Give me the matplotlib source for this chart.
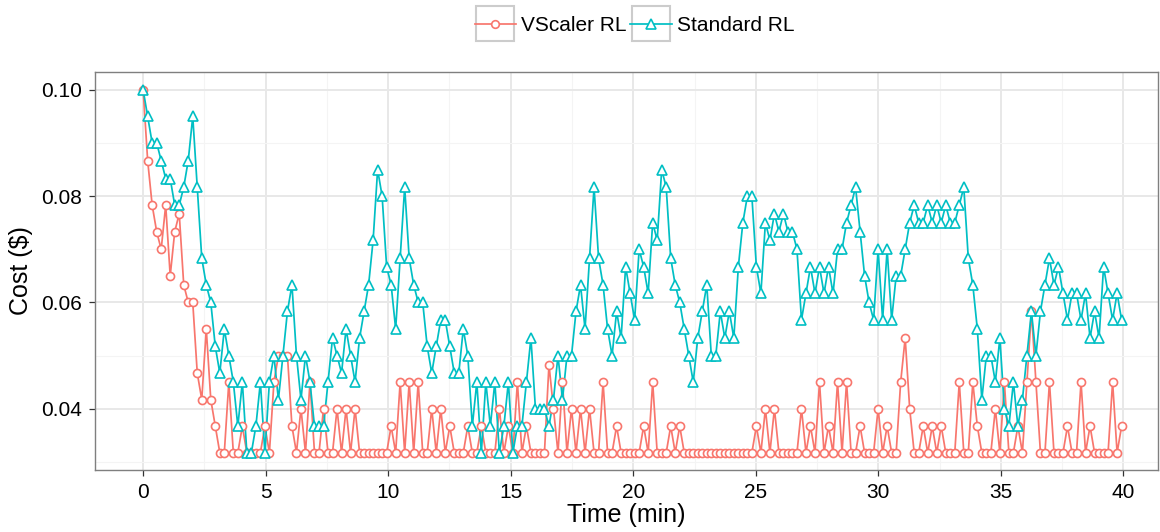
import numpy as np
import matplotlib
matplotlib.use("Agg")
import matplotlib.pyplot as plt
from matplotlib.lines import Line2D
from matplotlib.patches import Rectangle

plt.rcParams["font.family"] = ["Liberation Sans", "DejaVu Sans"]

# sampling interval of the cost trace, minutes
step_min = 0.184

vscaler = [
    0.1, 0.0867, 0.0783, 0.0733, 0.07, 0.0783, 0.065, 0.0733, 0.0767, 0.0633,
    0.06, 0.06, 0.0467, 0.0417, 0.055, 0.0417, 0.0367, 0.0317, 0.0317, 0.045,
    0.0317, 0.0317, 0.0367, 0.0317, 0.0317, 0.0317, 0.0317, 0.0367, 0.0317, 0.045,
    0.05, 0.05, 0.05, 0.0367, 0.0317, 0.04, 0.0317, 0.045, 0.0317, 0.0317,
    0.04, 0.0317, 0.0317, 0.04, 0.0317, 0.04, 0.0317, 0.04, 0.0317, 0.0317,
    0.0317, 0.0317, 0.0317, 0.0317, 0.0317, 0.0367, 0.0317, 0.045, 0.0317, 0.045,
    0.0317, 0.045, 0.0317, 0.0317, 0.04, 0.0317, 0.04, 0.0317, 0.0367, 0.0317,
    0.0317, 0.0317, 0.0367, 0.0317, 0.0317, 0.0367, 0.0317, 0.0317, 0.0317, 0.04,
    0.0317, 0.0367, 0.0317, 0.045, 0.0317, 0.0367, 0.0317, 0.0317, 0.0317, 0.0317,
    0.0483, 0.04, 0.0317, 0.045, 0.0317, 0.04, 0.0317, 0.04, 0.0317, 0.04,
    0.0317, 0.0317, 0.045, 0.0317, 0.0317, 0.0367, 0.0317, 0.0317, 0.0317, 0.0317,
    0.0317, 0.0367, 0.0317, 0.045, 0.0317, 0.0317, 0.0317, 0.0367, 0.0317, 0.0367,
    0.0317, 0.0317, 0.0317, 0.0317, 0.0317, 0.0317, 0.0317, 0.0317, 0.0317, 0.0317,
    0.0317, 0.0317, 0.0317, 0.0317, 0.0317, 0.0317, 0.0367, 0.0317, 0.04, 0.0317,
    0.04, 0.0317, 0.0317, 0.0317, 0.0317, 0.0317, 0.04, 0.0317, 0.0367, 0.0317,
    0.045, 0.0317, 0.0367, 0.0317, 0.045, 0.0317, 0.045, 0.0317, 0.0317, 0.0367,
    0.0317, 0.0317, 0.0317, 0.04, 0.0317, 0.0367, 0.0317, 0.0317, 0.045, 0.0533,
    0.04, 0.0317, 0.0317, 0.0367, 0.0317, 0.0367, 0.0317, 0.0367, 0.0317, 0.0317,
    0.0317, 0.045, 0.0317, 0.0317, 0.045, 0.0367, 0.0317, 0.0317, 0.0317, 0.04,
    0.0317, 0.045, 0.0317, 0.0317, 0.0367, 0.0317, 0.045, 0.0583, 0.045, 0.0317,
    0.0317, 0.045, 0.0317, 0.0317, 0.0317, 0.0367, 0.0317, 0.0317, 0.045, 0.0317,
    0.0367, 0.0317, 0.0317, 0.0317, 0.0317, 0.045, 0.0317, 0.0367,
]

standard = [
    0.1, 0.095, 0.09, 0.09, 0.0867, 0.0833, 0.0833, 0.0783, 0.0783, 0.0817,
    0.0867, 0.095, 0.0817, 0.0683, 0.0633, 0.06, 0.0517, 0.0467, 0.055, 0.05,
    0.045, 0.0367, 0.045, 0.0317, 0.0317, 0.0367, 0.045, 0.0317, 0.045, 0.05,
    0.0417, 0.05, 0.0583, 0.0633, 0.05, 0.0417, 0.05, 0.045, 0.0367, 0.0367,
    0.0367, 0.045, 0.0533, 0.05, 0.0467, 0.055, 0.05, 0.045, 0.0533, 0.0583,
    0.0633, 0.0717, 0.085, 0.08, 0.0667, 0.0633, 0.055, 0.0683, 0.0817, 0.0683,
    0.0633, 0.06, 0.06, 0.0517, 0.0467, 0.0517, 0.0567, 0.0567, 0.0517, 0.0467,
    0.0467, 0.055, 0.05, 0.0367, 0.045, 0.0317, 0.045, 0.0367, 0.045, 0.0317,
    0.0367, 0.045, 0.0317, 0.0367, 0.0367, 0.045, 0.0533, 0.04, 0.04, 0.04,
    0.0367, 0.0417, 0.05, 0.0417, 0.05, 0.05, 0.0583, 0.0633, 0.055, 0.0683,
    0.0817, 0.0683, 0.0633, 0.055, 0.05, 0.0583, 0.0533, 0.0667, 0.0617, 0.0567,
    0.07, 0.0667, 0.0617, 0.075, 0.0717, 0.085, 0.0817, 0.0683, 0.0633, 0.06,
    0.055, 0.05, 0.045, 0.0533, 0.0583, 0.0633, 0.05, 0.05, 0.0583, 0.0533,
    0.0583, 0.0533, 0.0667, 0.075, 0.08, 0.08, 0.0667, 0.0617, 0.075, 0.0717,
    0.0767, 0.0733, 0.0767, 0.0733, 0.0733, 0.07, 0.0567, 0.0617, 0.0667, 0.0617,
    0.0667, 0.0617, 0.0667, 0.0617, 0.07, 0.07, 0.075, 0.0783, 0.0817, 0.0733,
    0.065, 0.06, 0.0567, 0.07, 0.0567, 0.07, 0.0567, 0.065, 0.065, 0.07,
    0.075, 0.0783, 0.075, 0.075, 0.0783, 0.075, 0.0783, 0.075, 0.0783, 0.075,
    0.075, 0.0783, 0.0817, 0.0683, 0.0633, 0.055, 0.0417, 0.05, 0.05, 0.045,
    0.0533, 0.04, 0.0367, 0.045, 0.0367, 0.0417, 0.05, 0.0583, 0.05, 0.0583,
    0.0633, 0.0683, 0.0633, 0.0667, 0.0617, 0.0567, 0.0617, 0.0617, 0.0567, 0.0617,
    0.0533, 0.0583, 0.0533, 0.0667, 0.0617, 0.0567, 0.0617, 0.0567,
]

series_names = ["VScaler RL", "Standard RL"]
colors = ["#F8766D", "#00BFC4"]
markers = ["o", "^"]

x_ticks = [0, 5, 10, 15, 20, 25, 30, 35, 40]
y_ticks = [0.04, 0.06, 0.08, 0.10]

time = np.arange(len(vscaler)) * step_min

fig = plt.figure(figsize=(11.6, 5.32), dpi=100)
ax = fig.add_axes([0.082, 0.117, 0.916, 0.748])

# lines first, then points (ggplot layer order)
for vals, c in zip([vscaler, standard], colors):
    ax.plot(time, vals, color=c, lw=1.25, zorder=3)
for vals, c, m in zip([vscaler, standard], colors, markers):
    ax.plot(time, vals, ls="none", marker=m, ms=5.8 if m == "o" else 6.8,
            mfc="white", mec=c, mew=1.2, zorder=4)

ax.set_xlim(-1.96, 41.4)
ax.set_ylim(0.0285, 0.1034)
ax.set_xticks(x_ticks)
ax.set_yticks(y_ticks)
ax.set_yticklabels([f"{v:.2f}" for v in y_ticks])
ax.set_xticks([2.5, 7.5, 12.5, 17.5, 22.5, 27.5, 32.5, 37.5], minor=True)
ax.set_yticks([0.03, 0.05, 0.07, 0.09], minor=True)

ax.grid(which="major", color="#E8E8E8", lw=1.4, zorder=0)
ax.grid(which="minor", color="#F4F4F4", lw=0.8, zorder=0)
ax.set_axisbelow(True)
ax.tick_params(which="major", direction="out", length=4.5, width=0.9,
               color="#333333", labelsize=15, labelcolor="black", pad=5)
ax.tick_params(which="minor", length=0)
for sp in ax.spines.values():
    sp.set_color("#7F7F7F")
    sp.set_linewidth(1.0)

ax.set_xlabel("Time (min)", fontsize=18, labelpad=1)
ax.set_ylabel("Cost ($)", fontsize=18, labelpad=6)

handles = [Line2D([], [], color=c, lw=1.25, marker=m, ms=5.5 if m == "o" else 6.5,
                  mfc="white", mec=c, mew=1.2)
           for c, m in zip(colors, markers)]
leg = fig.legend(handles, series_names, loc="upper center",
                 bbox_to_anchor=(0.547, 1.005), ncol=2, frameon=False,
                 fontsize=15, handlelength=2.0, handletextpad=0.25,
                 columnspacing=0.15, numpoints=1)

# grey frame around each legend key, like ggplot's theme_bw
fig.canvas.draw()
renderer = fig.canvas.get_renderer()
for ln in leg.get_lines():
    bb = ln.get_window_extent(renderer)
    cx, cy = (bb.x0 + bb.x1) / 2, (bb.y0 + bb.y1) / 2
    w, h = 38, 35
    fig.patches.append(Rectangle((cx - w / 2, cy - h / 2), w, h,
                                 transform=None, fill=False,
                                 edgecolor="#CCCCCC", lw=1.5))

fig.savefig("out.png", dpi=100)
